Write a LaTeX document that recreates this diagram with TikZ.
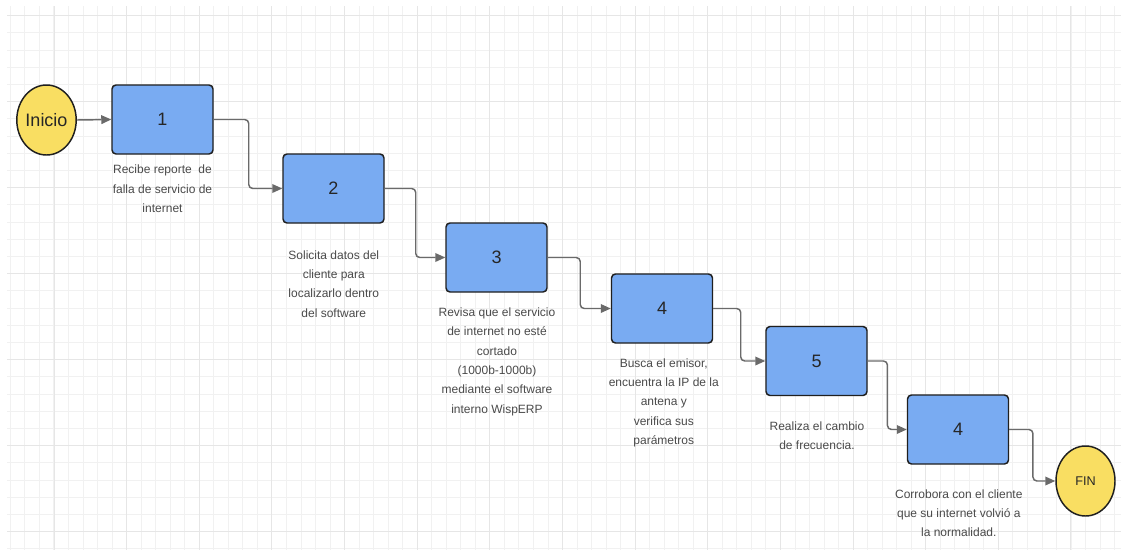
\documentclass[tikz,border=0pt]{standalone}
\usepackage{fontspec}
\setmainfont{Liberation Sans}
\usetikzlibrary{arrows.meta,shapes.geometric}
\definecolor{gridminor}{HTML}{F1F1F1}
\definecolor{gridmajor}{HTML}{E6E6E6}
\definecolor{stepblue}{HTML}{79ABF2}
\definecolor{termyellow}{HTML}{F9DE62}
\definecolor{edgegray}{HTML}{6A6A6A}
\definecolor{labelgray}{HTML}{4A4A4A}
\begin{document}
\begin{tikzpicture}[x=0.75pt,y=-0.75pt,
  stepbox/.style={draw=black!88,line width=1.1pt,fill=stepblue,rounded corners=3pt,
    minimum width=75.75pt,minimum height=51.75pt,inner sep=0pt,
    font=\fontsize{13.5pt}{16pt}\selectfont,text=black!85},
  terminal/.style={ellipse,draw=black!88,line width=1.1pt,fill=termyellow,
    minimum width=44.25pt,minimum height=52.5pt,inner sep=0pt,text=black!85},
  note/.style={align=center,text=labelgray,inner sep=0pt,
    font=\fontsize{9pt}{14.5pt}\selectfont},
  flow/.style={draw=edgegray,line width=1.1pt,rounded corners=3pt,
    -{Triangle[length=7.5pt,width=6.5pt]}}]
  \useasboundingbox (0,0) rectangle (1121,550);
  \fill[white] (0,0) rectangle (1121,550);
  % background grid
  \foreach \i in {0,...,76}
    \draw[gridminor,line width=0.75pt] (10.4+14.53*\i,6) -- (10.4+14.53*\i,550);
  \foreach \i in {0,...,31}
    \draw[gridminor,line width=0.75pt] (7,15.7+17.2*\i) -- (1121,15.7+17.2*\i);
  \foreach \i in {0,...,14}
    \draw[gridmajor,line width=0.75pt] (54+72.64*\i,6) -- (54+72.64*\i,550);
  \foreach \i in {0,...,6}
    \draw[gridmajor,line width=0.75pt] (7,15.7+86*\i) -- (1121,15.7+86*\i);

  % start and end
  \node[terminal,font=\fontsize{13.5pt}{16pt}\selectfont] (ini) at (46.5,120) {Inicio};
  \node[terminal,font=\fontsize{9.5pt}{12pt}\selectfont] (fin) at (1085.5,481) {FIN};

  % process steps
  \node[stepbox] (s1) at (162.5,119.5) {1};
  \node[stepbox] (s2) at (333.5,188.5) {2};
  \node[stepbox] (s3) at (496.5,257.5) {3};
  \node[stepbox] (s4) at (662,308.5) {4};
  \node[stepbox] (s5) at (816.5,361) {5};
  \node[stepbox] (s6) at (958,429.5) {4};

  % descriptions
  \node[note] (t1) at (162.5,188.8) {Recibe reporte~ de\\falla de servicio de\\internet};
  \node[note] (t2) at (333.8,283.8) {Solicita datos del\\cliente para\\localizarlo dentro\\del software};
  \node[note] (t3) at (497,361.7) {Revisa que el servicio\\de internet no esté\\cortado\\(1000b-1000b)\\mediante el software\\interno WispERP};
  \node[note] (t4) at (663.8,402.8) {Busca el emisor,\\encuentra la IP de la\\antena y\\verifica sus\\parámetros};
  \node[note] (t5) at (817,435.5) {Realiza el cambio\\de frecuencia.};
  \node[note] (t6) at (958.8,513.3) {Corrobora con el cliente\\que su internet volvió a\\la normalidad.};

  % connectors
  \draw[flow] (ini.east) -- (s1.west);
  \draw[flow] (s1.east) -- ++(35,0) |- (s2.west);
  \draw[flow] (s2.east) -- ++(31,0) |- (s3.west);
  \draw[flow] (s3.east) -- ++(32.5,0) |- (s4.west);
  \draw[flow] (s4.east) -- ++(27.5,0) |- (s5.west);
  \draw[flow] (s5.east) -- ++(19.7,0) |- (s6.west);
  \draw[flow] (s6.east) -- ++(23.7,0) |- (fin.west);
\end{tikzpicture}
\end{document}
